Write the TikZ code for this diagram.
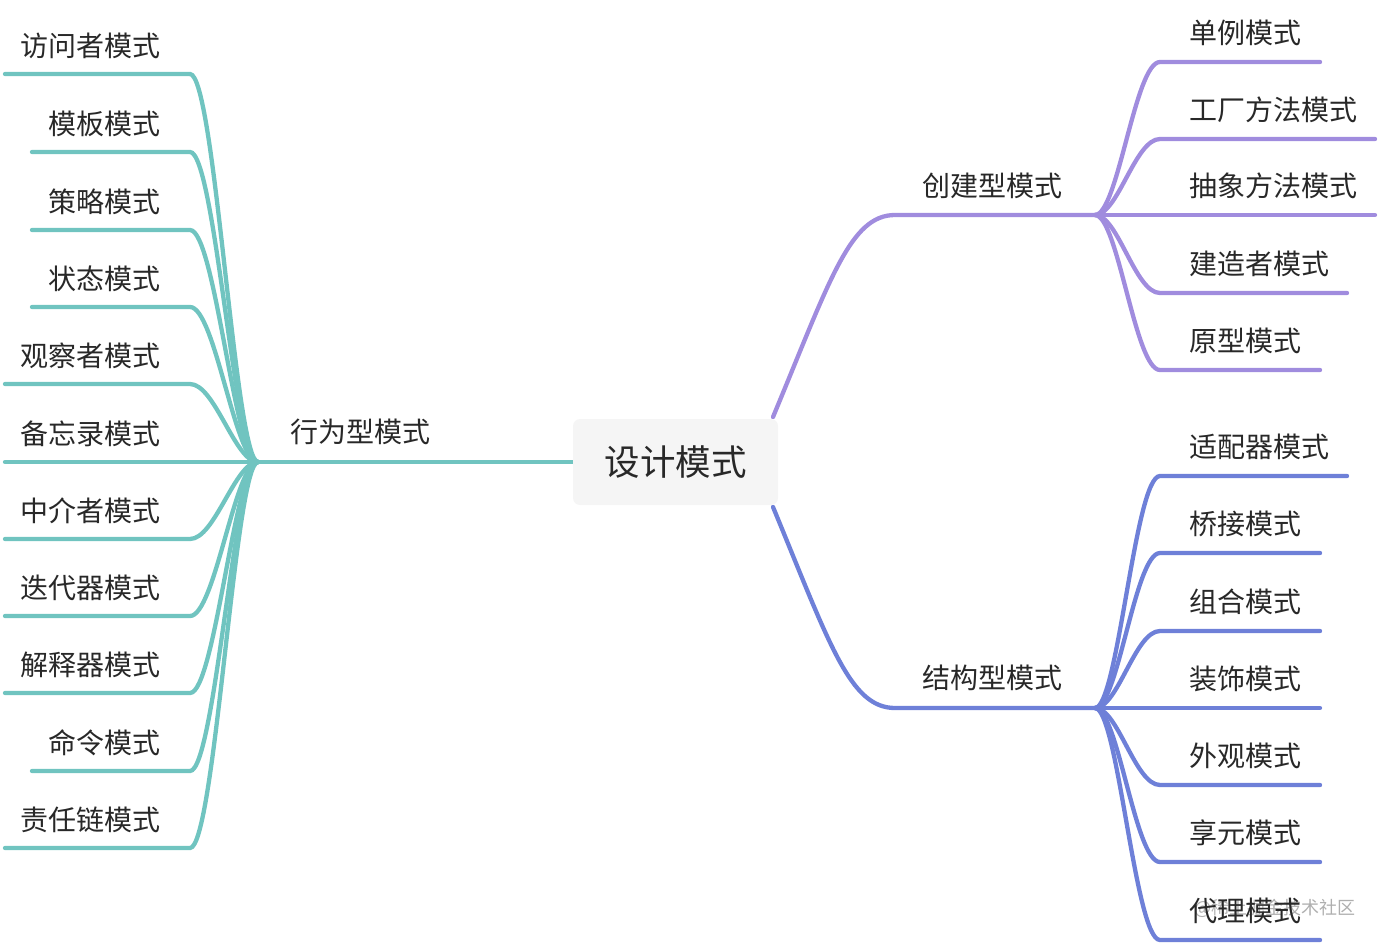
\documentclass[tikz,border=0pt]{standalone}
\usepackage{fontspec}
\setmainfont{Noto Sans CJK SC}
\definecolor{tealc}{RGB}{112,196,192}
\definecolor{purc}{RGB}{160,140,222}
\definecolor{bluec}{RGB}{110,128,216}
\definecolor{txtc}{RGB}{40,40,40}
\definecolor{boxc}{RGB}{245,245,245}
\definecolor{wmc}{RGB}{175,175,175}
\begin{document}
\begin{tikzpicture}[x=1pt,y=-1pt,
  conn/.style={line width=4.3pt,line cap=round},
  leafL/.style={anchor=east,inner sep=0pt,text=txtc,font=\fontsize{28pt}{30pt}\selectfont},
  leafR/.style={anchor=west,inner sep=0pt,text=txtc,font=\fontsize{28pt}{30pt}\selectfont},
  mid/.style={anchor=center,inner sep=0pt,text=txtc,font=\fontsize{28pt}{30pt}\selectfont},
  rootbox/.style={fill=boxc,rounded corners=7pt,minimum width=205pt,minimum height=86pt,inner sep=0pt,text=txtc,font=\fontsize{35.5pt}{38pt}\selectfont}]
\useasboundingbox (0,0) rectangle (1380,944);
% junctions and root anchor points
\coordinate (Jl) at (258,462);
\coordinate (Jt) at (1095,215);
\coordinate (Jb) at (1095,708);
\coordinate (Rl) at (573,462);
\coordinate (Rt) at (773,417);
\coordinate (Rb) at (773,507);
\coordinate (Tt) at (895,215);
\coordinate (Tb) at (895,708);
% main branches
\draw[conn,tealc] (Rl) -- (Jl);
\draw[conn,purc] (Rt) .. controls (830,280) and (850,215) .. (Tt) -- (Jt);
\draw[conn,bluec] (Rb) .. controls (830,645) and (850,708) .. (Tb) -- (Jb);
% left leaves
\foreach \i/\y/\t/\s in {1/74/访问者模式/5, 2/152/模板模式/32, 3/230/策略模式/32, 4/307/状态模式/32, 5/384/观察者模式/5, 6/462/备忘录模式/5, 7/539/中介者模式/5, 8/616/迭代器模式/5, 9/693/解释器模式/5, 10/771/命令模式/32, 11/848/责任链模式/5}{
  \coordinate (Ls\i) at (\s,\y);
  \coordinate (Lc\i) at (190,\y);
  \draw[conn,tealc] (Ls\i) -- (Lc\i) .. controls ([xshift=25pt]Lc\i) and ([xshift=-23pt]Jl) .. (Jl);
  \node[leafL] (L\i) at (161,\y-28) {\t};
}
% top right leaves
\foreach \i/\y/\t/\e in {1/62/单例模式/1320, 2/139/工厂方法模式/1375, 3/215/抽象方法模式/1375, 4/293/建造者模式/1347, 5/370/原型模式/1320}{
  \coordinate (Te\i) at (\e,\y);
  \coordinate (Tc\i) at (1160,\y);
  \draw[conn,purc] (Jt) .. controls ([xshift=23pt]Jt) and ([xshift=-25pt]Tc\i) .. (Tc\i) -- (Te\i);
  \node[leafR] (T\i) at (1189,\y-29) {\t};
}
% bottom right leaves
\node[anchor=east,inner sep=0pt,text=wmc,font=\fontsize{18pt}{20pt}\selectfont] (wm) at (1356,908) {@稀土掘金技术社区};
\foreach \i/\y/\t/\e in {1/476/适配器模式/1347, 2/553/桥接模式/1320, 3/631/组合模式/1320, 4/708/装饰模式/1320, 5/785/外观模式/1320, 6/862/享元模式/1320, 7/940/代理模式/1320}{
  \coordinate (Be\i) at (\e,\y);
  \coordinate (Bc\i) at (1160,\y);
  \draw[conn,bluec] (Jb) .. controls ([xshift=23pt]Jb) and ([xshift=-25pt]Bc\i) .. (Bc\i) -- (Be\i);
  \node[leafR] (B\i) at (1189,\y-29) {\t};
}
% branch labels
\node[mid] (beh) at (360,432) {行为型模式};
\node[mid] (cre) at (992,186) {创建型模式};
\node[mid] (str) at (992,678) {结构型模式};
% root
\node[rootbox] (root) at (675.5,462) {设计模式};
\end{tikzpicture}
\end{document}
